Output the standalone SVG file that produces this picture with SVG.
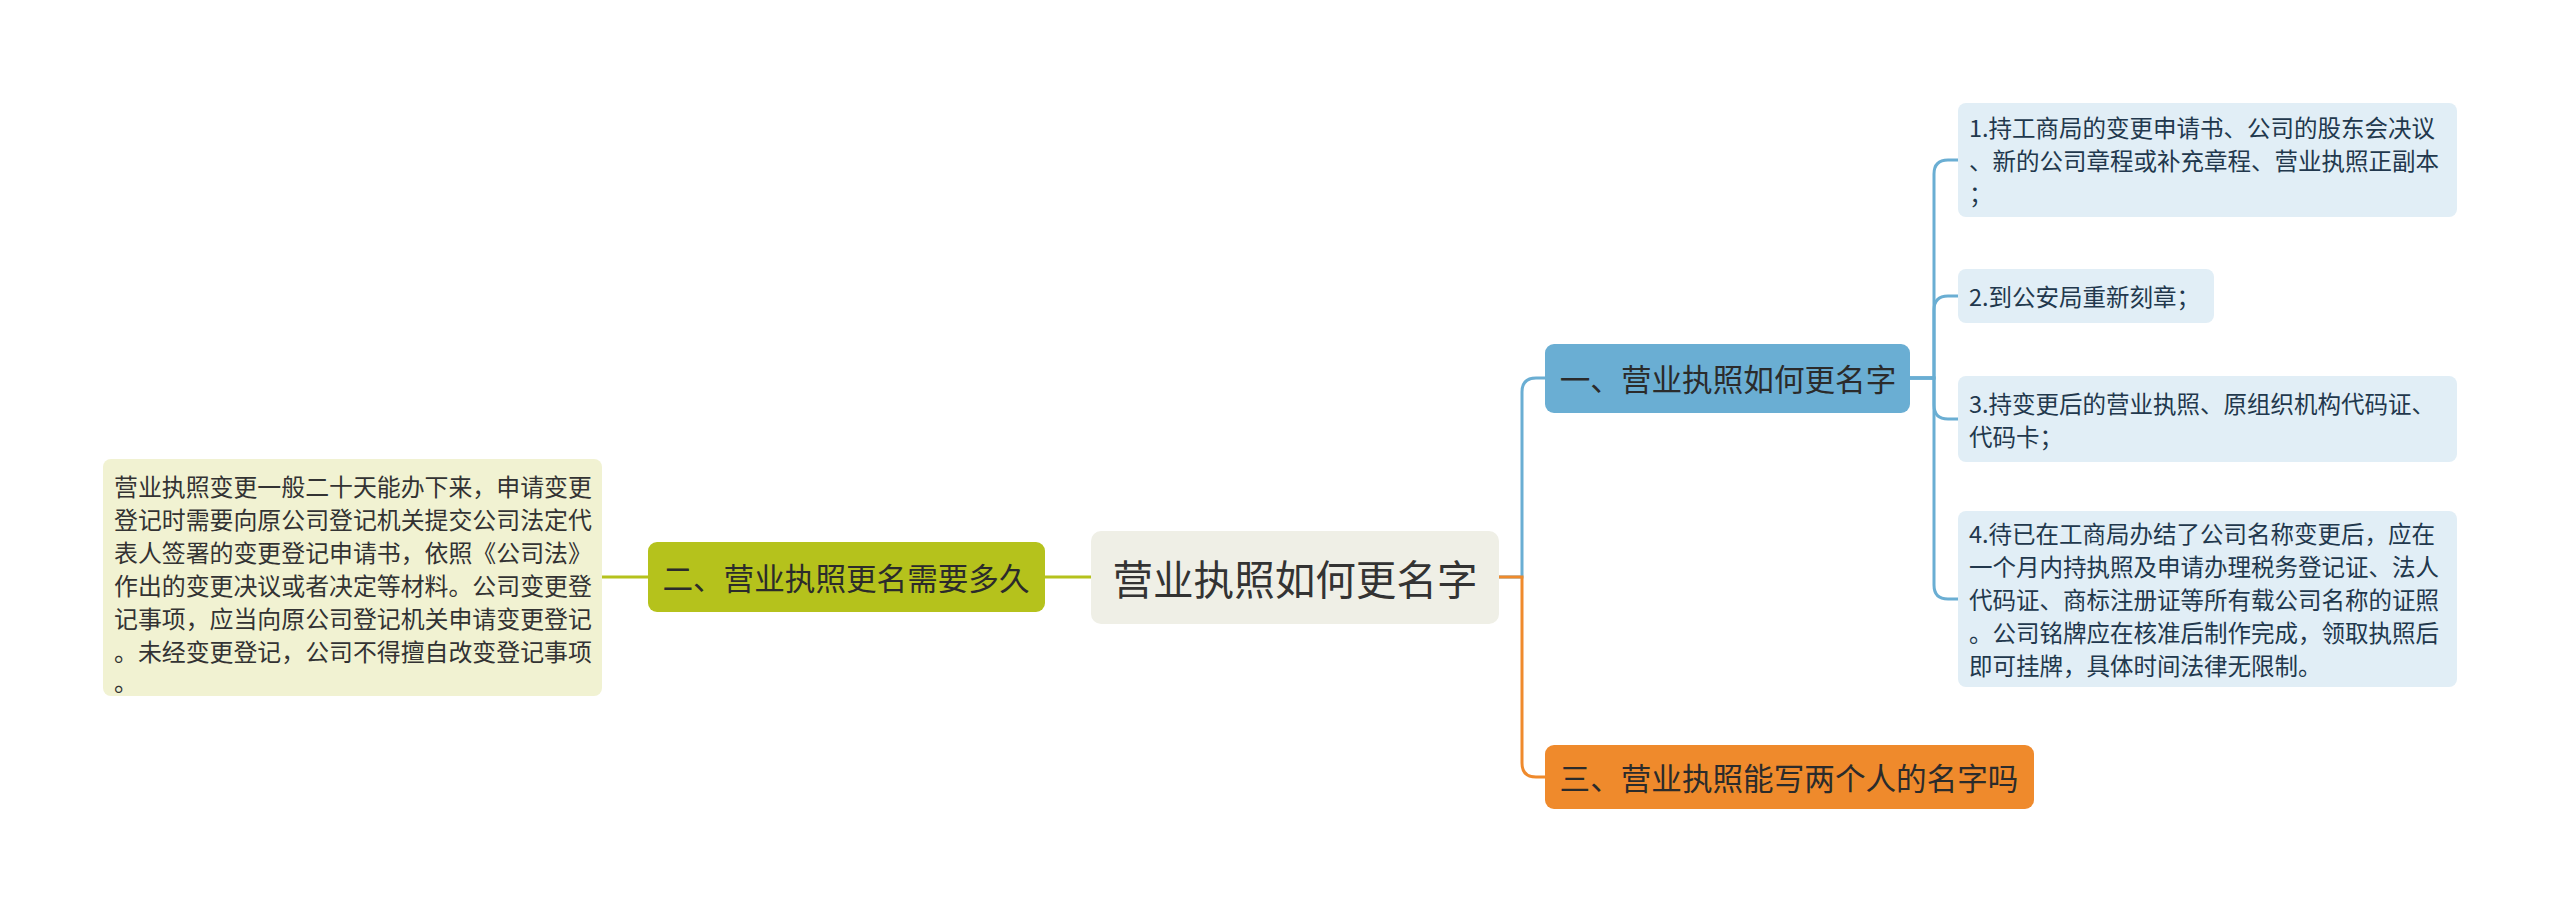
<svg xmlns="http://www.w3.org/2000/svg" width="2560" height="913" viewBox="0 0 2560 913">
<style>
text{font-family:"Noto Sans CJK SC","Noto Sans",sans-serif;dominant-baseline:central}
.root{font-size:40.6px;fill:#333}
.br{font-size:30.6px;fill:#2b2b2b}
.leaf{font-size:23.9px;fill:#333}
.rleaf{font-size:23.5px;fill:#22384d}
.c{fill:none;stroke-width:3}
</style>
<rect width="2560" height="913" fill="#ffffff"/>
<g id="connectors">
<path class="c" stroke="#b5c21c" d="M1091 577 H1045"/>
<path class="c" stroke="#b5c21c" d="M648 577 H602"/>
<path class="c" stroke="#6aaed3" d="M1499 577 H1522 V392 Q1522 378 1536 378 H1545"/>
<path class="c" stroke="#ef8a2c" d="M1499 577 H1522 V763 Q1522 777 1536 777 H1545"/>
<path class="c" stroke="#6aaed3" d="M1910 378 H1934 V174 Q1934 160 1948 160 H1958"/>
<path class="c" stroke="#6aaed3" d="M1910 378 H1934 V310 Q1934 296 1948 296 H1958"/>
<path class="c" stroke="#6aaed3" d="M1910 378 H1934 V405 Q1934 419 1948 419 H1958"/>
<path class="c" stroke="#6aaed3" d="M1910 378 H1934 V585 Q1934 599 1948 599 H1958"/>
</g>
<g id="root">
<rect x="1091" y="531" width="408" height="93" rx="10" fill="#efefe6"/>
<text class="root" x="1295" y="577" text-anchor="middle">营业执照如何更名字</text>
</g>
<g id="branch1">
<rect x="1545" y="344" width="365" height="69" rx="9" fill="#6aaed3"/>
<text class="br" x="1728" y="378" text-anchor="middle">一、营业执照如何更名字</text>
</g>
<g id="branch2">
<rect x="648" y="542" width="397" height="70" rx="9" fill="#b5c21c"/>
<text class="br" x="846" y="577" text-anchor="middle">二、营业执照更名需要多久</text>
</g>
<g id="branch3">
<rect x="1545" y="745" width="489" height="64" rx="9" fill="#ef8a2c"/>
<text class="br" x="1789" y="777" text-anchor="middle">三、营业执照能写两个人的名字吗</text>
</g>
<g id="leaf-left">
<rect x="103" y="459" width="499" height="237" rx="8" fill="#f1f2d2"/>
<text class="leaf" x="114" y="485">营业执照变更一般二十天能办下来，申请变更</text>
<text class="leaf" x="114" y="518">登记时需要向原公司登记机关提交公司法定代</text>
<text class="leaf" x="114" y="551">表人签署的变更登记申请书，依照《公司法》</text>
<text class="leaf" x="114" y="584">作出的变更决议或者决定等材料。公司变更登</text>
<text class="leaf" x="114" y="617">记事项，应当向原公司登记机关申请变更登记</text>
<text class="leaf" x="114" y="650">。未经变更登记，公司不得擅自改变登记事项</text>
<text class="leaf" x="114" y="680">。</text>
</g>
<g id="leaf1">
<rect x="1958" y="103" width="499" height="114" rx="8" fill="#e1eef6"/>
<text class="rleaf" x="1969" y="127">1.持工商局的变更申请书、公司的股东会决议</text>
<text class="rleaf" x="1969" y="160">、新的公司章程或补充章程、营业执照正副本</text>
<text class="rleaf" x="1969" y="193">；</text>
</g>
<g id="leaf2">
<rect x="1958" y="269" width="256" height="54" rx="8" fill="#e1eef6"/>
<text class="rleaf" x="1969" y="296">2.到公安局重新刻章；</text>
</g>
<g id="leaf3">
<rect x="1958" y="376" width="499" height="86" rx="8" fill="#e1eef6"/>
<text class="rleaf" x="1969" y="403">3.持变更后的营业执照、原组织机构代码证、</text>
<text class="rleaf" x="1969" y="436">代码卡；</text>
</g>
<g id="leaf4">
<rect x="1958" y="511" width="499" height="176" rx="8" fill="#e1eef6"/>
<text class="rleaf" x="1969" y="533">4.待已在工商局办结了公司名称变更后，应在</text>
<text class="rleaf" x="1969" y="566">一个月内持执照及申请办理税务登记证、法人</text>
<text class="rleaf" x="1969" y="599">代码证、商标注册证等所有载公司名称的证照</text>
<text class="rleaf" x="1969" y="632">。公司铭牌应在核准后制作完成，领取执照后</text>
<text class="rleaf" x="1969" y="665">即可挂牌，具体时间法律无限制。</text>
</g>
</svg>
